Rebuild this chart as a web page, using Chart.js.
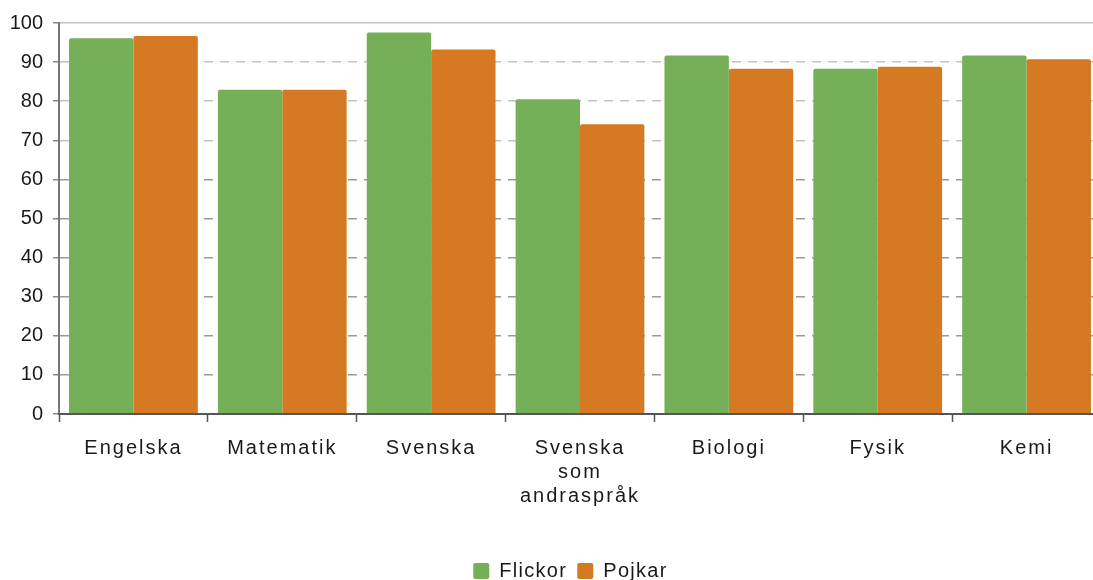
<!DOCTYPE html>
<html>
<head>
<meta charset="utf-8">
<script src="https://cdn.jsdelivr.net/npm/chart.js@4"></script>
<style>
html, body { margin: 0; padding: 0; overflow: hidden; background: #fff; }
#wrap { width: 1101px; height: 591px; }
</style>
</head>
<body>
<div id="wrap"><canvas id="chart"></canvas></div>
<script>
const subjects = ['Engelska', 'Matematik', 'Svenska', ['Svenska', 'som', 'andraspråk'], 'Biologi', 'Fysik', 'Kemi'];
const flickor = [96.1, 82.9, 97.6, 80.5, 91.7, 88.3, 91.7];
const pojkar = [96.7, 82.9, 93.2, 74.1, 88.3, 88.8, 90.7];
const yMin = 0;
const yMax = 100;
const yStep = 10;

const labelSpacing = '2px';
const legendSpacing = '1.3px';

Chart.defaults.font.family = "'Liberation Sans', Arial, sans-serif";
Chart.defaults.font.size = 20;
Chart.defaults.color = '#1a1a1a';

// x labels and legend in the original are slightly letter-spaced,
// and the legend sits a bit right of the canvas centre
const spacingPlugin = {
    id: 'spacing',
    beforeLayout(chart) { chart.ctx.letterSpacing = legendSpacing; },
    afterLayout(chart) {
        chart.ctx.letterSpacing = '0px';
        if (chart.legend) chart.legend.left += 40;
    },
    beforeDraw(chart) {
        [[chart.legend, 'draw', legendSpacing], [chart.scales.x, 'drawLabels', labelSpacing]].forEach(([obj, fn, sp]) => {
            if (!obj || obj['_sp_' + fn]) return;
            const orig = obj[fn];
            obj[fn] = function (...args) {
                chart.ctx.letterSpacing = sp;
                orig.apply(this, args);
                chart.ctx.letterSpacing = '0px';
            };
            obj['_sp_' + fn] = true;
        });
    }
};

const ctx = document.getElementById('chart').getContext('2d');
new Chart(ctx, {
    type: 'bar',
    data: {
        labels: subjects,
        datasets: [
            {
                label: 'Flickor',
                data: flickor,
                backgroundColor: '#75AF57',
                borderRadius: { topLeft: 2, topRight: 2 },
                borderSkipped: 'bottom'
            },
            {
                label: 'Pojkar',
                data: pojkar,
                backgroundColor: '#D57A23',
                borderRadius: { topLeft: 2, topRight: 2 },
                borderSkipped: 'bottom'
            }
        ]
    },
    options: {
        responsive: true,
        maintainAspectRatio: false,
        animation: false,
        layout: { padding: { left: 0, top: 23, right: 0, bottom: 0 } },
        datasets: {
            bar: { barPercentage: 1.0, categoryPercentage: 0.865 }
        },
        scales: {
            x: {
                afterFit(scale) { scale.height = 137; },
                grid: {
                    drawOnChartArea: false,
                    tickLength: 8,
                    tickColor: '#555',
                    tickWidth: 1.5
                },
                border: { color: '#555', width: 2, z: 1 },
                ticks: {
                    padding: 14,
                    color: '#1a1a1a',
                    font: { size: 20, lineHeight: 1.2 },
                    maxRotation: 0,
                    autoSkip: false
                }
            },
            y: {
                min: yMin,
                max: yMax,
                afterFit(scale) { scale.width = 59; },
                grid: {
                    color: c => (c.tick && c.tick.value >= 70 ? '#c2c2c2' : '#9a9a9a'),
                    lineWidth: 1.5,
                    tickLength: 6,
                    tickColor: '#888',
                    tickWidth: 1.5
                },
                border: {
                    color: '#777',
                    width: 2,
                    dash: c => (c.tick && c.tick.value === yMax ? [] : [9, 7])
                },
                ticks: {
                    stepSize: yStep,
                    padding: 10,
                    color: '#1a1a1a',
                    font: { size: 20 }
                }
            }
        },
        plugins: {
            legend: {
                position: 'bottom',
                labels: {
                    boxWidth: 16,
                    boxHeight: 16,
                    padding: 10,
                    useBorderRadius: true,
                    borderRadius: 2,
                    color: '#1a1a1a',
                    font: { size: 20 }
                }
            },
            tooltip: { enabled: false }
        }
    },
    plugins: [spacingPlugin]
});
</script>
</body>
</html>
